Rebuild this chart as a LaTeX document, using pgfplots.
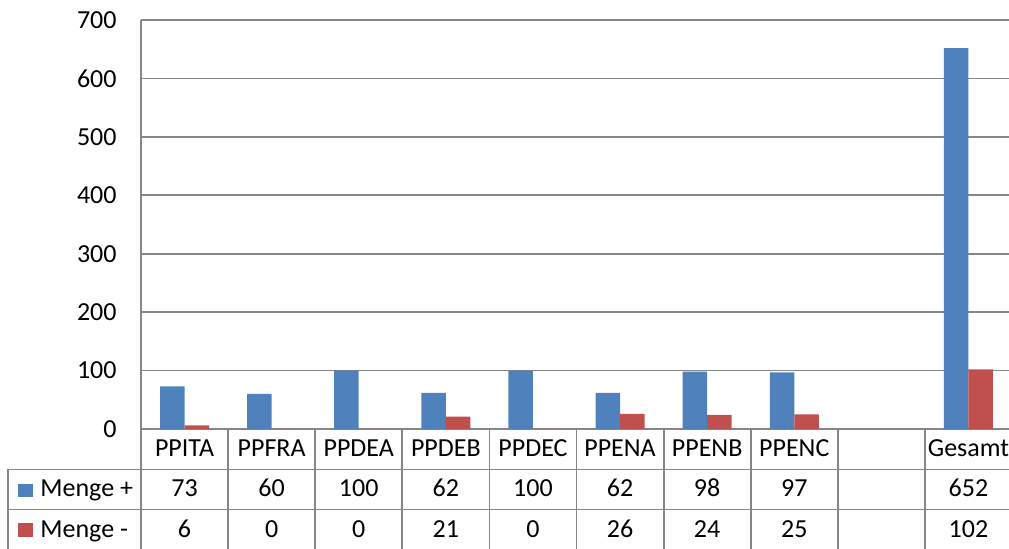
\documentclass[border=0pt]{standalone}
\usepackage{fontspec}
\setmainfont{Carlito}
\usepackage{pgfplots}
\pgfplotsset{compat=1.18}
\definecolor{xlblue}{HTML}{4F81BD}
\definecolor{xlred}{HTML}{C0504D}
\definecolor{xlgrid}{HTML}{868686}
\begin{document}
\fontsize{13pt}{15.6pt}\selectfont
\begin{tikzpicture}
\useasboundingbox (-70.5pt,-60pt) rectangle (434pt,214.5pt);
\begin{axis}[
  at={(0,0)}, anchor=south west,
  scale only axis, width=435.5pt, height=204.5pt,
  xmin=-0.5, xmax=9.5, ymin=0, ymax=700,
  ybar=0pt, bar width=12.25pt,
  ytick={0,100,...,700}, xtick=\empty,
  ymajorgrids, grid style={xlgrid, line width=0.9pt},
  axis line style={draw=none},
  major tick length=0pt,
  yticklabel style={anchor=east, inner sep=0pt, xshift=-12pt},
  /pgf/number format/assume math mode=true,
]
\addplot[fill=xlblue, draw=none] coordinates {(0,73) (1,60) (2,100) (3,62) (4,100) (5,62) (6,98) (7,97) (9,652)};
\addplot[fill=xlred, draw=none] coordinates {(0,6) (1,0) (2,0) (3,21) (4,0) (5,26) (6,24) (7,25) (9,102)};
\end{axis}
\begin{scope}[xlgrid, line width=0.9pt]
\draw (0,204.5pt) -- (0,-60pt);
\foreach \i in {1,...,10} \draw ({\i*43.55pt},0) -- ({\i*43.55pt},-60pt);
\draw (-66.5pt,-20.25pt) -- (435.5pt,-20.25pt);
\draw (-66.5pt,-40.25pt) -- (435.5pt,-40.25pt);
\draw (-66.5pt,-20.25pt) -- (-66.5pt,-60pt);
\end{scope}
\foreach \n [count=\i from 0] in {PPITA,PPFRA,PPDEA,PPDEB,PPDEC,PPENA,PPENB,PPENC,{},Gesamt}
  \node[anchor=base, inner sep=0pt] at ({(\i+0.5)*43.55pt},-14pt) {\n};
\foreach \n [count=\i from 0] in {73,60,100,62,100,62,98,97,{},652}
  \node[anchor=base, inner sep=0pt] at ({(\i+0.5)*43.55pt},-34pt) {\n};
\foreach \n [count=\i from 0] in {6,0,0,21,0,26,24,25,{},102}
  \node[anchor=base, inner sep=0pt] at ({(\i+0.5)*43.55pt},-54.5pt) {\n};
\fill[xlblue] (-61.5pt,-34pt) rectangle (-54pt,-27.5pt);
\fill[xlred] (-61.5pt,-54pt) rectangle (-54pt,-47pt);
\node[anchor=base west, inner sep=0pt] at (-50.5pt,-34pt) {Menge +};
\node[anchor=base west, inner sep=0pt] at (-50.5pt,-54.5pt) {Menge -};
\end{tikzpicture}
\end{document}
